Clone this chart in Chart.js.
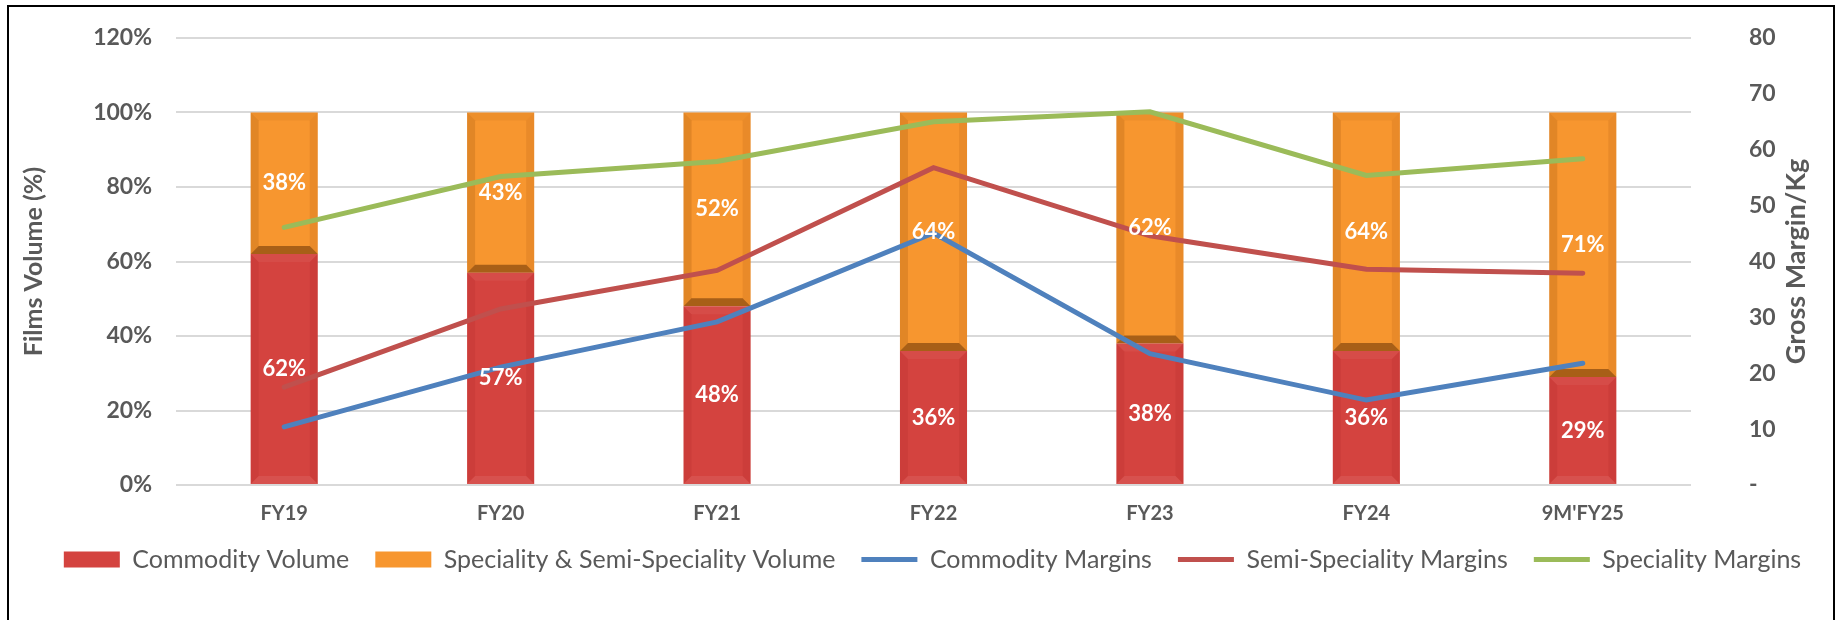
<!DOCTYPE html>
<html>
<head>
<meta charset="utf-8">
<script src="https://cdn.jsdelivr.net/npm/chart.js@4.4.1/dist/chart.umd.min.js"></script>
<style>
  html, body { margin: 0; padding: 0; background: #fff; }
  #wrap { position: relative; width: 1841px; height: 620px; overflow: hidden; }
  #frame { position: absolute; left: 7px; top: 5px; width: 1828px; height: 640px;
           border: 2px solid #000; box-sizing: border-box; pointer-events: none; }
  canvas { position: absolute; left: 0; top: 0; }
</style>
</head>
<body>
<div id="wrap">
  <canvas id="chart" width="1841" height="620"></canvas>
  <div id="frame"></div>
</div>
<script>
// Films volume mix (bars, left axis) and gross margin per kg (lines, right axis)
const categories      = ['FY19', 'FY20', 'FY21', 'FY22', 'FY23', 'FY24', "9M'FY25"];
const commodityVolume = [62, 57, 48, 36, 38, 36, 29];
const specialityVolume = [38, 43, 52, 64, 62, 64, 71];
const commodityMargins = [10.4, 21.1, 29.2, 45.1, 23.5, 15.2, 21.8];
const semiSpecMargins  = [17.5, 31.5, 38.4, 56.8, 44.6, 38.6, 37.9];
const specMargins      = [46.1, 55.2, 57.9, 65.0, 66.8, 55.4, 58.4];
const leftTicks  = [0, 20, 40, 60, 80, 100, 120];
const rightTicks = [0, 10, 20, 30, 40, 50, 60, 70, 80];

const TEXT = '#595959';
const FONT = 'Lato, "Open Sans", sans-serif';

// fake Excel bevel on the stacked bars
const bevelPlugin = {
  id: 'bevel',
  afterDatasetDraw(chart, args) {
    const ds = chart.data.datasets[args.index];
    if (!ds.bevel) return;
    const ctx = chart.ctx, b = ds.bevel;
    args.meta.data.forEach(el => {
      const { x, y, base, width } = el.getProps(['x', 'y', 'base', 'width'], true);
      const l = x - width / 2, r = x + width / 2;
      const t = Math.min(y, base), bt = Math.max(y, base);
      const s = 8;
      const poly = (pts, col) => {
        ctx.beginPath();
        ctx.moveTo(pts[0][0], pts[0][1]);
        pts.slice(1).forEach(p => ctx.lineTo(p[0], p[1]));
        ctx.closePath();
        ctx.fillStyle = col;
        ctx.fill();
      };
      ctx.save();
      poly([[l, t], [l + s, t + s], [l + s, bt - s], [l, bt]], b.left);
      poly([[r, t], [r - s, t + s], [r - s, bt - s], [r, bt]], b.right);
      poly([[l, t], [r, t], [r - s, t + s], [l + s, t + s]], b.top);
      poly([[l, bt], [r, bt], [r - s, bt - s], [l + s, bt - s]], b.bottom);
      ctx.restore();
    });
  }
};

// white % labels in the middle of each bar segment
const barLabels = {
  id: 'barLabels',
  afterDatasetsDraw(chart) {
    const ctx = chart.ctx;
    ctx.save();
    ctx.font = 'bold 22px ' + FONT;
    ctx.fillStyle = '#fff';
    ctx.textAlign = 'center';
    ctx.textBaseline = 'middle';
    chart.data.datasets.forEach((ds, i) => {
      if (ds.type !== 'bar') return;
      chart.getDatasetMeta(i).data.forEach((el, j) => {
        const p = el.getCenterPoint();
        ctx.fillText(ds.data[j] + '%', p.x, p.y);
      });
    });
    ctx.restore();
  }
};

// right axis title reads bottom-to-top like the left one
const rightTitle = {
  id: 'rightTitle',
  afterDraw(chart) {
    const ctx = chart.ctx;
    ctx.save();
    ctx.translate(1796, (chart.chartArea.top + chart.chartArea.bottom) / 2);
    ctx.rotate(-Math.PI / 2);
    ctx.font = 'bold 27px ' + FONT;
    ctx.fillStyle = TEXT;
    ctx.textAlign = 'center';
    ctx.textBaseline = 'middle';
    ctx.fillText('Gross Margin/Kg', 0, 0);
    ctx.restore();
  }
};

const hiddenGrid = { display: true, drawOnChartArea: false, drawTicks: false };

new Chart(document.getElementById('chart'), {
  data: {
    labels: categories,
    datasets: [
      { type: 'bar', label: 'Commodity Volume', data: commodityVolume, yAxisID: 'y', order: 2,
        backgroundColor: '#D4433F', barPercentage: 0.31, categoryPercentage: 1, pointStyle: 'rect',
        bevel: { left: 'rgba(120,0,0,0.08)', right: 'rgba(120,0,0,0.08)',
                 top: 'rgba(255,255,255,0.05)', bottom: 'rgba(255,255,255,0.08)' } },
      { type: 'bar', label: 'Speciality & Semi-Speciality Volume', data: specialityVolume, yAxisID: 'y', order: 2,
        backgroundColor: '#F7962F', barPercentage: 0.31, categoryPercentage: 1, pointStyle: 'rect',
        bevel: { left: 'rgba(130,60,0,0.18)', right: 'rgba(130,60,0,0.12)',
                 top: 'rgba(130,60,0,0.08)', bottom: 'rgba(90,40,0,0.5)' } },
      { type: 'line', label: 'Commodity Margins', data: commodityMargins, yAxisID: 'y2', order: 1,
        borderColor: '#4F81BD', backgroundColor: '#4F81BD', borderWidth: 5, pointStyle: 'line',
        borderCapStyle: 'round', pointRadius: 0, tension: 0 },
      { type: 'line', label: 'Semi-Speciality Margins', data: semiSpecMargins, yAxisID: 'y2', order: 1,
        borderColor: '#C0504D', backgroundColor: '#C0504D', borderWidth: 5, pointStyle: 'line',
        borderCapStyle: 'round', pointRadius: 0, tension: 0 },
      { type: 'line', label: 'Speciality Margins', data: specMargins, yAxisID: 'y2', order: 1,
        borderColor: '#9BBB59', backgroundColor: '#9BBB59', borderWidth: 5, pointStyle: 'line',
        borderCapStyle: 'round', pointRadius: 0, tension: 0 }
    ]
  },
  options: {
    responsive: false, animation: false, devicePixelRatio: 1,
    layout: { padding: { top: 38, right: 0, bottom: 38, left: 24 } },
    plugins: {
      legend: {
        position: 'bottom',
        labels: {
          usePointStyle: true, pointStyleWidth: 56, boxHeight: 16,
          padding: 26, color: TEXT, font: { family: FONT, size: 25 },
          sort: (a, b) => a.datasetIndex - b.datasetIndex
        }
      },
      tooltip: { enabled: false }
    },
    scales: {
      x: {
        stacked: true,
        grid: hiddenGrid,
        border: { display: false },
        ticks: { color: TEXT, padding: 17, font: { family: FONT, size: 20, weight: 'bold' } },
        afterFit: s => { s.height = 36; }
      },
      y: {
        stacked: true, position: 'left', min: 0, max: 120,
        afterBuildTicks: s => { s.ticks = leftTicks.map(v => ({ value: v })); },
        ticks: { color: TEXT, padding: 24, callback: v => v + '%',
                 font: { family: FONT, size: 23, weight: 'bold' } },
        grid: { color: '#D9D9D9', lineWidth: 2, drawTicks: false },
        border: { display: false },
        title: { display: true, text: 'Films Volume (%)', color: TEXT, padding: { top: -5, bottom: 0 },
                 font: { family: FONT, size: 25, weight: 'bold' } },
        afterFit: s => { s.width = 152; }
      },
      y2: {
        position: 'right', min: 0, max: 80,
        afterBuildTicks: s => { s.ticks = rightTicks.map(v => ({ value: v })); },
        ticks: { color: TEXT, padding: 58, callback: v => v === 0 ? '-' : v,
                 font: { family: FONT, size: 23, weight: 'bold' } },
        grid: hiddenGrid,
        border: { display: false },
        afterFit: s => { s.width = 150; s.paddingTop = 12; s.paddingBottom = 12; }
      }
    }
  },
  plugins: [bevelPlugin, barLabels, rightTitle]
});
</script>
</body>
</html>
